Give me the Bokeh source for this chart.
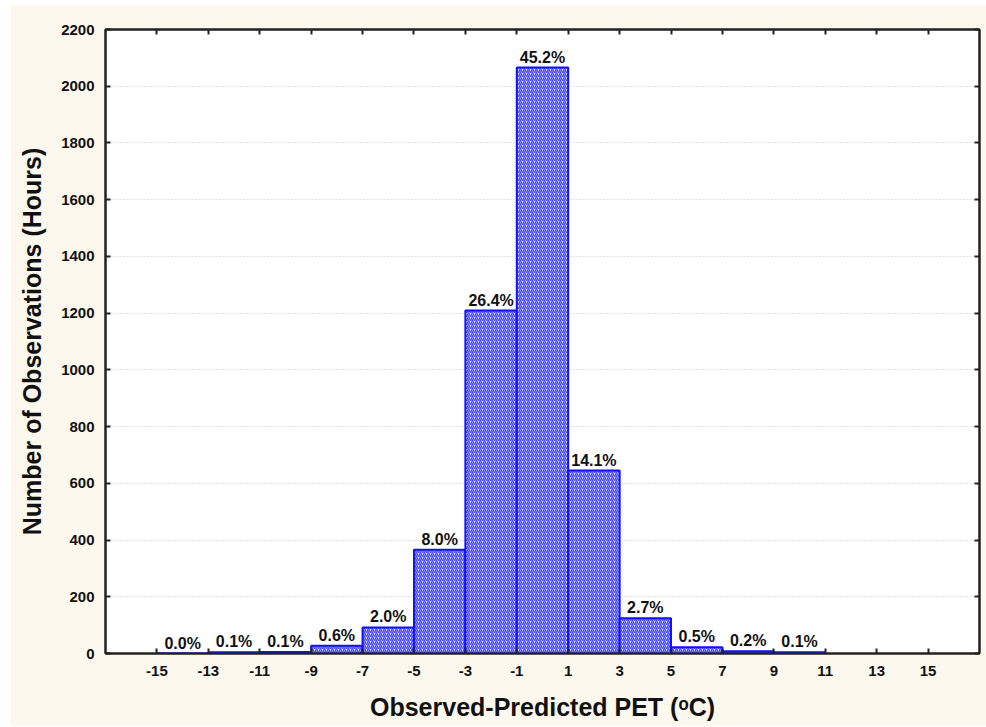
from bokeh.plotting import figure
from bokeh.models import LinearAxis, FixedTicker, Range1d, ColumnDataSource, CustomLabelingPolicy
from bokeh.core.properties import value
from bokeh.embed import file_html
from bokeh.resources import INLINE

bin_left = [-15, -13, -11, -9, -7, -5, -3, -1, 1, 3, 5, 7, 9]
bin_right = [-13, -11, -9, -7, -5, -3, -1, 1, 3, 5, 7, 9, 11]
counts = [0, 4, 5, 27, 92, 366, 1209, 2066, 645, 124, 22, 8, 4]
pct_labels = ["0.0%", "0.1%", "0.1%", "0.6%", "2.0%", "8.0%", "26.4%", "45.2%",
              "14.1%", "2.7%", "0.5%", "0.2%", "0.1%"]
x_ticks = [-15, -13, -11, -9, -7, -5, -3, -1, 1, 3, 5, 7, 9, 11, 13, 15]
y_ticks = [0, 200, 400, 600, 800, 1000, 1200, 1400, 1600, 1800, 2000, 2200]

FONT = "Liberation Sans"
CREAM = "#fcf8ed"

p = figure(width=976, height=721, output_backend="svg", toolbar_location=None,
           x_range=Range1d(-17, 17), y_range=Range1d(0, 2200),
           min_border_left=95, min_border_right=7, min_border_top=24, min_border_bottom=73)
p.margin = (5, 0, 0, 10)
p.border_fill_color = CREAM
p.background_fill_color = "white"
p.outline_line_color = "#222222"
p.outline_line_width = 2

src = ColumnDataSource(dict(left=bin_left, right=bin_right, top=counts,
                            mid=[(a + b) / 2 for a, b in zip(bin_left, bin_right)],
                            lab=pct_labels))
p.quad(left="left", right="right", bottom=0, top="top", source=src,
       fill_color="#f2f2ff", line_color="#1010ff", line_width=2,
       hatch_pattern="/", hatch_color="#3c3cff", hatch_scale=4, hatch_weight=1.4)

p.text(x="mid", y="top", text="lab", source=src, text_align="center",
       text_baseline="bottom", y_offset=-2, text_font=value(FONT),
       text_font_style="bold", text_font_size="16px", text_color="#111111")

p.xgrid.visible = False
p.ygrid.ticker = FixedTicker(ticks=y_ticks)
p.ygrid.grid_line_color = "#c8c8c8"
p.ygrid.grid_line_dash = "1 2"
p.ygrid.grid_line_width = 1

def style(ax):
    ax.axis_line_color = "#222222"
    ax.axis_line_width = 2
    ax.major_tick_in = 5
    ax.major_tick_out = 0
    ax.minor_tick_line_color = None
    ax.major_tick_line_color = "#222222"
    ax.major_tick_line_width = 2
    ax.major_label_text_font = FONT
    ax.major_label_text_font_style = "bold"
    ax.major_label_text_font_size = "15px"
    ax.major_label_text_color = "#111111"
    ax.axis_label_text_font = FONT
    ax.axis_label_text_font_style = "bold"
    ax.axis_label_text_font_size = "25px"
    ax.axis_label_text_color = "#111111"

p.xaxis.ticker = FixedTicker(ticks=x_ticks)
p.yaxis.ticker = FixedTicker(ticks=y_ticks)
style(p.xaxis[0])
style(p.yaxis[0])
p.xaxis.major_label_overrides = {t: str(t) for t in x_ticks}
p.xaxis.axis_label = "Observed-Predicted PET (\u1d52C)"
p.yaxis.axis_label = "Number of Observations (Hours)"
p.xaxis.major_label_standoff = 12
p.yaxis.major_label_standoff = 11
p.xaxis.axis_label_standoff = 14
p.yaxis.axis_label_standoff = 12

hide = CustomLabelingPolicy(code="""
    const r = indices.clone()
    for (let i = 0; i < r.size; i++) r.unset(i)
    return r
""")
for loc, ticks in (("above", x_ticks), ("right", y_ticks)):
    ax = LinearAxis(ticker=FixedTicker(ticks=ticks), major_label_policy=hide)
    style(ax)
    ax.major_label_text_font_size = "1px"
    ax.major_label_standoff = 0
    p.add_layout(ax, loc)

open("out.html", "w").write(file_html(p, INLINE))
